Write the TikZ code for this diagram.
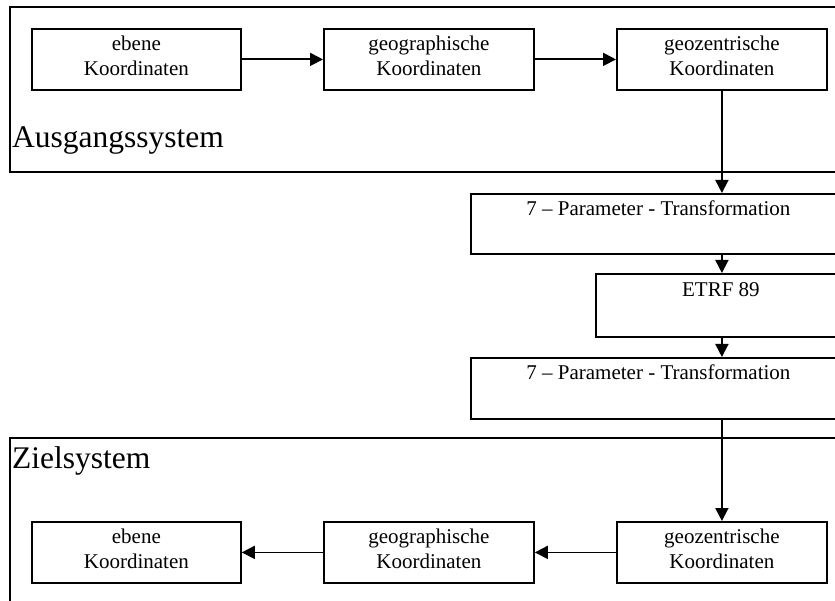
\documentclass[tikz,border=0pt]{standalone}
\usepackage{fontspec}
\setmainfont{Liberation Serif}
\usetikzlibrary{arrows.meta}
\begin{document}
\begin{tikzpicture}[x=1pt,y=1pt,
  box/.style={draw, line width=1.8pt, align=center, inner sep=0pt, font=\fontsize{21}{24.5}\selectfont, anchor=north west},
  frame/.style={draw, line width=1.6pt},
  big/.style={font=\fontsize{31.5}{36}\selectfont, anchor=base west, inner sep=0pt},
  arr/.style={line width=1.8pt, -{Triangle[length=13pt,width=13pt]}}]
\useasboundingbox (0,0) rectangle (835,-601);
\clip (0,0) rectangle (835,-601);
\fill[white] (0,0) rectangle (835,-601);
% frames
\draw[frame] (10,-7) rectangle (860,-172);
\draw[frame] (10,-438) rectangle (860,-640);
\node[big] (ausg) at (12,-148) {Ausgangssystem};
\node[big] (ziel) at (12,-468) {Zielsystem};
% top row
\node[box, minimum width=209pt, minimum height=61pt] (a1) at (31,-28) {ebene\\Koordinaten\strut};
\node[box, minimum width=210pt, minimum height=61pt] (a2) at (323,-28) {geographische\\Koordinaten\strut};
\node[box, minimum width=210pt, minimum height=61pt] (a3) at (616,-28) {geozentrische\\Koordinaten\strut};
% middle
\node[box, minimum width=375pt, minimum height=60pt] (p1) at (470,-193) {7 – Parameter - Transformation\\\strut};
\node[box, minimum width=250pt, minimum height=63pt] (e) at (595,-273) {ETRF 89\\\strut};
\node[box, minimum width=375pt, minimum height=61pt] (p2) at (470,-357) {7 – Parameter - Transformation\\\strut};
% bottom row
\node[box, minimum width=210pt, minimum height=61pt] (z3) at (616,-521) {geozentrische\\Koordinaten\strut};
\node[box, minimum width=210pt, minimum height=61pt] (z2) at (323,-521) {geographische\\Koordinaten\strut};
\node[box, minimum width=209pt, minimum height=61pt] (z1) at (31,-521) {ebene\\Koordinaten\strut};
% arrows
\draw[arr] (a1.east) -- (a2.west);
\draw[arr] (a2.east) -- (a3.west);
\draw[arr] (a3.south) -- (a3.south |- p1.north);
\draw[arr] (p1.south -| a3.south) -- (e.north -| a3.south);
\draw[arr] (e.south -| a3.south) -- (p2.north -| a3.south);
\draw[arr] (p2.south -| z3.north) -- (z3.north);
\draw[arr] (z3.west) -- (z2.east);
\draw[arr] (z2.west) -- (z1.east);
\end{tikzpicture}
\end{document}
